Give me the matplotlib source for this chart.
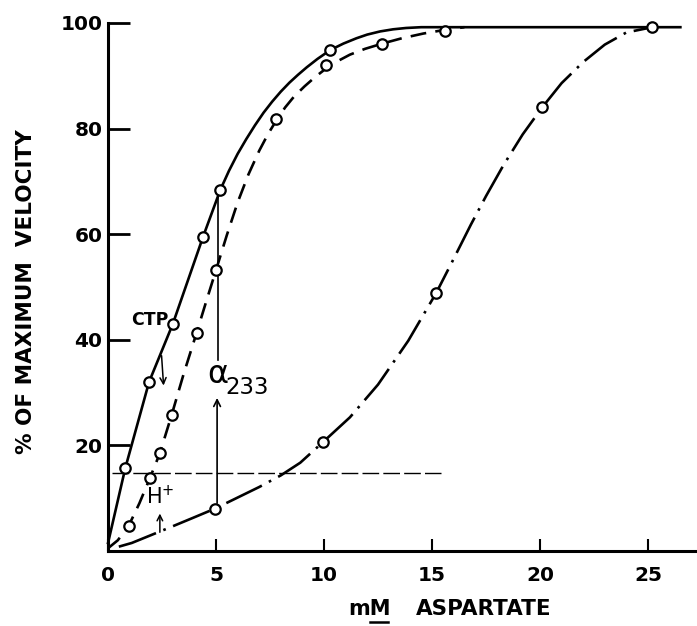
import matplotlib
matplotlib.use("Agg")
import matplotlib.pyplot as plt
from matplotlib.lines import Line2D

# traced curves (mM aspartate, % of max velocity)
solid_x = [0, 0.8, 1.9, 3.0, 4.4, 5.2, 5.6, 6.0, 6.4, 6.8, 7.2, 7.6, 8.0, 8.4, 8.8, 9.2,
           9.7, 10.3, 10.9, 11.5, 12.0, 12.6, 13.2, 13.8, 14.5, 26.5]
solid_y = [1.5, 15.7, 32, 43, 59.5, 68.4, 72.0, 75.2, 78.0, 80.6, 83.0, 85.1, 87.0, 88.7, 90.2, 91.6,
           93.2, 94.9, 96.1, 97.1, 97.8, 98.4, 98.8, 99.05, 99.2, 99.2]

dashed_x = [0, 0.45, 0.95, 1.45, 1.95, 2.4, 2.95, 3.5, 4.1, 4.55, 5.0, 5.5, 6.0, 6.5, 7.0, 7.4, 7.8,
            8.2, 8.6, 9.1, 9.6, 10.1, 10.6, 11.2, 11.9, 12.7, 13.6, 14.6, 15.6, 16.5]
dashed_y = [0.5, 2.0, 4.7, 9.0, 13.9, 18.5, 25.8, 33.5, 41.3, 47.3, 53.2, 59.8, 66.0, 71.3, 75.8, 78.9, 81.6,
            84.0, 86.0, 88.0, 89.8, 91.4, 92.7, 94.0, 95.1, 96.1, 97.1, 98.0, 98.7, 99.2]

dashdot_x = [0.5, 1.1, 2.0, 2.9, 3.9, 4.95, 6.0, 7.0, 8.0, 8.9, 9.95, 11.2, 12.5, 13.9, 15.2,
             16.0, 16.8, 17.5, 18.3, 19.2, 20.1, 21.0, 22.0, 23.0, 24.0, 25.2]
dashdot_y = [0.8, 1.5, 3.0, 4.5, 6.2, 8.0, 10.1, 12.1, 14.3, 16.7, 20.6, 25.3, 31.5, 39.8, 48.9,
             55.3, 61.8, 67.2, 73.0, 78.9, 84.0, 88.6, 92.6, 95.9, 98.2, 99.2]

# measured points
solid_px = [0.8, 1.9, 3.0, 4.4, 5.2, 10.3, 25.2]
solid_py = [15.7, 32, 43, 59.5, 68.4, 94.9, 99.2]
dashed_px = [0.95, 1.95, 2.4, 2.95, 4.1, 5.0, 7.8, 10.1, 12.7, 15.6]
dashed_py = [4.7, 13.9, 18.5, 25.8, 41.3, 53.2, 81.8, 92, 96, 98.4]
dashdot_px = [4.95, 9.95, 15.2, 20.1]
dashdot_py = [8, 20.6, 48.9, 84]

x_ticks = [0, 5, 10, 15, 20, 25]
y_ticks = [20, 40, 60, 80, 100]

fig = plt.figure(figsize=(6.97, 6.26), dpi=100)
ax = fig.add_axes([0.155, 0.12, 0.845, 0.8433])
ax.set_xlim(0, 27.27)
ax.set_ylim(0, 100)

lw = 1.9
ax.plot(solid_x, solid_y, color='black', lw=lw, clip_on=False, solid_joinstyle='round')
ax.plot(dashed_x, dashed_y, color='black', lw=lw, ls=(0, (6, 3.5)), clip_on=False)
ax.plot(dashdot_x, dashdot_y, color='black', lw=lw, ls=(0, (15, 3, 1, 3)), clip_on=False)

mk = dict(ls='none', marker='o', ms=7.5, mfc='white', mec='black', mew=1.6, clip_on=False, zorder=5)
ax.plot(solid_px, solid_py, **mk)
ax.plot(dashed_px, dashed_py, **mk)
ax.plot(dashdot_px, dashdot_py, **mk)

# horizontal guide at ~15 %
ax.plot([0.2, 15.4], [14.8, 14.8], color='black', lw=1.0, ls=(0, (12, 3)))

# alpha-233 markers
ax.plot([5.1, 5.1], [68.4, 36.2], color='black', lw=1.2)
ax.annotate('', xy=(5.05, 29.5), xytext=(5.05, 8.5),
            arrowprops=dict(arrowstyle='->', color='black', lw=1.2, mutation_scale=12))
ax.text(4.6, 33.5, 'α', fontsize=23, ha='left', va='center')
ax.text(5.45, 31.0, '233', fontsize=16.5, ha='left', va='center')

# CTP
ax.text(2.8, 43.8, 'CTP', fontsize=12.5, fontweight='bold', ha='right', va='center')
ax.annotate('', xy=(2.58, 30.8), xytext=(2.47, 37.5),
            arrowprops=dict(arrowstyle='->', color='black', lw=1.1, mutation_scale=11))

# H+
ax.text(2.4, 10.4, 'H$^{+}$', fontsize=15, ha='center', va='center')
ax.annotate('', xy=(2.4, 7.6), xytext=(2.4, 3.0),
            arrowprops=dict(arrowstyle='->', color='black', lw=1.1, mutation_scale=10))

for s in ['top', 'right']:
    ax.spines[s].set_visible(False)
for s in ['left', 'bottom']:
    ax.spines[s].set_linewidth(2.2)

ax.set_xticks(x_ticks)
ax.set_yticks(y_ticks)
ax.tick_params(axis='y', direction='in', length=16, width=2, pad=4, labelsize=14.5)
ax.tick_params(axis='x', direction='in', length=9, width=1.5, pad=11, labelsize=14.5)
for lab in ax.get_xticklabels() + ax.get_yticklabels():
    lab.set_fontweight('bold')

fig.text(26 / 697, 1 - 292 / 626, '% OF MAXIMUM  VELOCITY', rotation=90,
         fontsize=15.5, fontweight='bold', ha='center', va='center')
fig.text(369 / 697, 1 - 609 / 626, 'mM', fontsize=15, fontweight='bold', ha='center', va='center')
fig.text(484 / 697, 1 - 609 / 626, 'ASPARTATE', fontsize=15.5, fontweight='bold', ha='center', va='center')
fig.add_artist(Line2D([370 / 697, 388 / 697], [1 - 622 / 626, 1 - 622 / 626], color='black', lw=1.8))

fig.savefig('out.png', dpi=100, facecolor='white')
